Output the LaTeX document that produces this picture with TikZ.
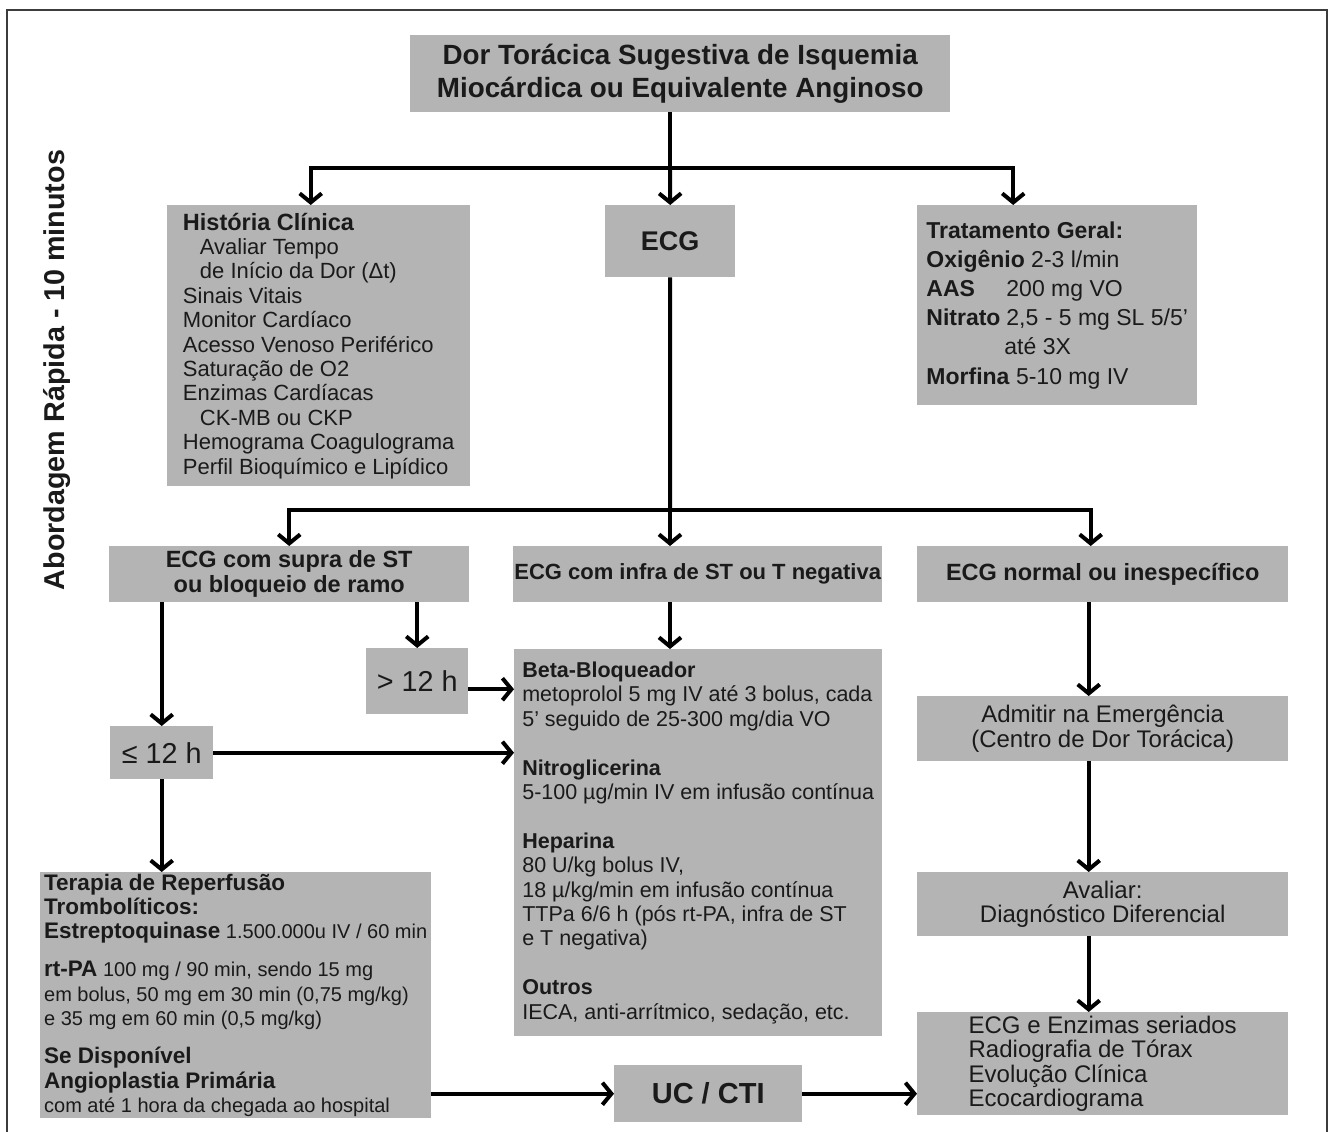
\documentclass[tikz,border=0pt]{standalone}
\usepackage{fontspec}
\setmainfont{Liberation Sans}
\usetikzlibrary{arrows.meta,positioning,calc}
\definecolor{BoxGray}{HTML}{B4B4B4}
\definecolor{InkBlack}{HTML}{1A1A1A}
\definecolor{FrameGray}{HTML}{3C3C3C}
\newcommand{\setfs}[2]{\fontsize{#1}{#2}\selectfont}
\newcommand{\hdr}[1]{\textbf{\setfs{22.5}{24.4}#1}}
\tikzset{
  greybox/.style={fill=BoxGray, draw=none, anchor=north west, inner sep=0pt, text=InkBlack, align=center},
  leftbox/.style={greybox, align=left},
  arr/.style={-{Straight Barb[length=9pt,width=22pt]}, line width=4pt, draw=black},
  bus/.style={line width=4pt, draw=black}
}

\begin{document}
\begin{tikzpicture}[x=1pt,y=-1pt]
\useasboundingbox (0,0) rectangle (1334,1132);
% moldura
\draw[line width=2pt, FrameGray] (7,1132) -- (7,10) -- (1327,10) -- (1327,1132);

\node[rotate=90, font=\bfseries\setfs{28.7}{30}, text=InkBlack] (abord) at (57,370) {Abordagem Rápida - 10 minutos};

% topo
\node[greybox, minimum width=540, minimum height=77, font=\bfseries\setfs{27.8}{33}] (titulo) at (410,35)
  {Dor Torácica Sugestiva de Isquemia\\Miocárdica ou Equivalente Anginoso};

\node[leftbox, minimum width=303, minimum height=281, font=\setfs{22}{24.4}] (hist) at (167,205)
  {\textbf{\setfs{23.5}{24.4}História Clínica}\\
   \hspace*{17pt}Avaliar Tempo\\
   \hspace*{17pt}de Início da Dor (Δt)\\
   Sinais Vitais\\
   Monitor Cardíaco\\
   Acesso Venoso Periférico\\
   Saturação de O2\\
   Enzimas Cardíacas\\
   \hspace*{17pt}CK-MB ou CKP\\
   Hemograma Coagulograma\\
   Perfil Bioquímico e Lipídico};

\node[greybox, minimum width=130, minimum height=72, font=\bfseries\setfs{27}{30}] (ecg) at (605,205) {ECG};

\node[leftbox, minimum width=280, minimum height=200, font=\setfs{23}{29.2}] (trat) at (917,205)
  {\textbf{Tratamento Geral:}\\
   \textbf{Oxigênio} 2-3 l/min\\
   \makebox[80pt][l]{\textbf{AAS}}200 mg VO\\
   \makebox[80pt][l]{\textbf{Nitrato}}2,5 - 5 mg SL 5/5'\\
   \hspace*{78pt}até 3X\\
   \textbf{Morfina} 5-10 mg IV};

% ramos do ECG
\node[greybox, minimum width=360, minimum height=56, font=\bfseries\setfs{23.5}{25}] (supra) at (109,546)
  {ECG com supra de ST\\ou bloqueio de ramo};
\node[greybox, minimum width=369, minimum height=56, font=\bfseries\setfs{22}{25}] (infra) at (513,546)
  {ECG com infra de ST ou T negativa};
\node[greybox, minimum width=371, minimum height=56, font=\bfseries\setfs{23.5}{25}] (normal) at (917,546)
  {ECG normal ou inespecífico};

\node[greybox, minimum width=102, minimum height=66, font=\setfs{28.8}{30}] (gt12) at (366,648) {> 12 h};
\node[greybox, minimum width=103, minimum height=53, font=\setfs{28.8}{30}] (le12) at (110,726) {≤ 12 h};

\node[leftbox, minimum width=368, minimum height=387, font=\setfs{21.5}{24.4}] (treat) at (514,649)
  {\textbf{Beta-Bloqueador}\\
   metoprolol 5 mg IV até 3 bolus, cada\\
   5' seguido de 25-300 mg/dia VO\\[24.4pt]
   \textbf{Nitroglicerina}\\
   5-100 µg/min IV em infusão contínua\\[24.4pt]
   \textbf{Heparina}\\
   80 U/kg bolus IV,\\
   18 µ/kg/min em infusão contínua\\
   TTPa 6/6 h (pós rt-PA, infra de ST\\
   e T negativa)\\[24.4pt]
   \textbf{Outros}\\
   IECA, anti-arrítmico, sedação, etc.};

\node[leftbox, minimum width=391, minimum height=246, font=\setfs{20}{24.4}] (terapia) at (40,872)
  {\hdr{Terapia de Reperfusão}\\
   \hdr{Trombolíticos:}\\
   \hdr{Estreptoquinase} 1.500.000u IV / 60 min\\[13.6pt]
   \hdr{rt-PA} 100 mg / 90 min, sendo 15 mg\\
   em bolus, 50 mg em 30 min (0,75 mg/kg)\\
   e 35 mg em 60 min (0,5 mg/kg)\\[13.6pt]
   \hdr{Se Disponível}\\
   \hdr{Angioplastia Primária}\\
   com até 1 hora da chegada ao hospital};

\node[greybox, minimum width=188, minimum height=57, font=\bfseries\setfs{29}{30}] (uc) at (614,1065) {UC / CTI};

\node[greybox, minimum width=371, minimum height=65, font=\setfs{24}{24.4}] (admit) at (917,696)
  {Admitir na Emergência\\(Centro de Dor Torácica)};
\node[greybox, minimum width=371, minimum height=64, font=\setfs{24}{24.4}] (aval) at (917,872)
  {Avaliar:\\Diagnóstico Diferencial};
\node[leftbox, minimum width=371, minimum height=103, font=\setfs{24}{24.4}] (final) at (917,1012)
  {ECG e Enzimas seriados\\Radiografia de Tórax\\Evolução Clínica\\Ecocardiograma};

% conectores
\coordinate (bus1) at (670,168);
\coordinate (bus2) at (670,510);
\draw[bus] (titulo.south -| bus1) -- (bus1);
\draw[arr] (bus1) -| ([xshift=-8pt]hist.north);
\draw[arr] (bus1) -- (ecg.north);
\draw[arr] (bus1) -| ([xshift=-44pt]trat.north);

\draw[bus] (ecg.south) -- (bus2);
\draw[arr] (bus2) -| (supra.north);
\draw[arr] (bus2) -- (bus2 |- infra.north);
\draw[arr] (bus2) -| ([xshift=-12pt]normal.north);

\draw[arr] (supra.south -| gt12.north) -- (gt12.north);
\draw[arr] (supra.south -| le12.north) -- (le12.north);
\draw[arr] (infra.south -| bus2) -- (treat.north -| bus2);
\draw[arr] ([yshift=-8pt]gt12.east) -- ([yshift=-8pt]gt12.east -| treat.west);
\draw[arr] (le12.east) -- (le12.east -| treat.west);
\draw[arr] (le12.south) -- (le12.south |- terapia.north);
\draw[arr] (terapia.east |- uc.west) -- (uc.west);
\draw[arr] (uc.east) -- (uc.east -| final.west);

\draw[arr] ([xshift=-14pt]normal.south) -- ([xshift=-14pt]admit.north);
\draw[arr] ([xshift=-14pt]admit.south) -- ([xshift=-14pt]aval.north);
\draw[arr] ([xshift=-14pt]aval.south) -- ([xshift=-14pt]final.north);
\end{tikzpicture}
\end{document}
